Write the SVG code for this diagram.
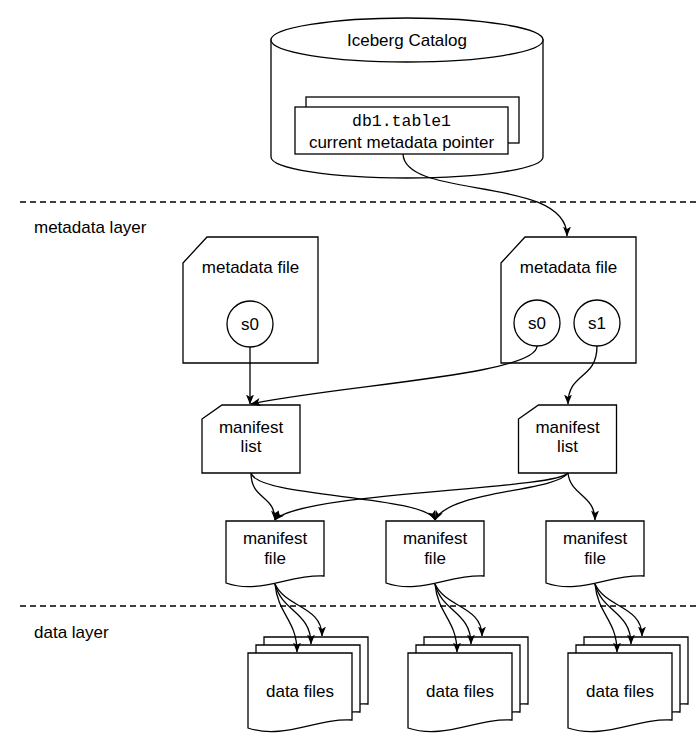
<svg xmlns="http://www.w3.org/2000/svg" width="700" height="742" viewBox="0 0 700 742">
<style>
.s{fill:#fff;stroke:#000;stroke-width:1.3}
.e{fill:none;stroke:#000;stroke-width:1.3;marker-end:url(#ah)}
.d{fill:none;stroke:#000;stroke-width:1.3;stroke-dasharray:6 4}
.t{font-family:"Liberation Sans",Arial,sans-serif;font-size:17px;text-anchor:middle;fill:#000}
.l{font-family:"Liberation Sans",Arial,sans-serif;font-size:17px;fill:#000}
.m{font-family:"Liberation Mono","Courier New",monospace;font-size:16.5px;text-anchor:middle;fill:#000}
</style>
<defs>
<marker id="ah" markerWidth="10" markerHeight="8" refX="9.5" refY="4" orient="auto" markerUnits="userSpaceOnUse">
<path d="M0,0 L10,4 L0,8 L2.5,4 z" fill="#000"/>
</marker>
</defs>
<rect width="700" height="742" fill="#fff"/>
<g id="layers">
<line class="d" x1="20" y1="202" x2="700" y2="202"/>
<line class="d" x1="20" y1="606" x2="700" y2="606"/>
<text class="l" x="34" y="233">metadata layer</text>
<text class="l" x="34" y="638">data layer</text>
</g>
<g id="catalog">
<path class="s" d="M271,40 V157 A136,21 0 0 0 543,157 V40 Z"/>
<ellipse class="s" cx="407" cy="40" rx="136" ry="22"/>
<text class="t" x="407" y="46">Iceberg Catalog</text>
</g>
<g id="pointer">
<rect class="s" x="306" y="97" width="213" height="46"/>
<rect class="s" x="295" y="107" width="213" height="47"/>
<text class="m" x="401.5" y="126">db1.table1</text>
<text class="t" x="401.5" y="147.5">current metadata pointer</text>
</g>
<g id="metadata-file-old">
<path class="s" d="M183,263 L207,237 H318 V363 H183 Z"/>
<text class="t" x="250.5" y="273">metadata file</text>
<circle class="s" cx="250" cy="324" r="23"/>
<text class="t" x="250" y="330">s0</text>
</g>
<g id="metadata-file-new">
<path class="s" d="M501,263 L525,237 H636 V363 H501 Z"/>
<text class="t" x="568.5" y="273">metadata file</text>
<circle class="s" cx="537" cy="323" r="23"/>
<text class="t" x="537" y="329">s0</text>
<circle class="s" cx="597" cy="323" r="23"/>
<text class="t" x="597" y="329">s1</text>
</g>
<g id="manifest-list-1">
<path class="s" d="M202,419 L222,405 H300 V473 H202 Z"/>
<text class="t" x="251" y="433">manifest</text>
<text class="t" x="251" y="452">list</text>
</g>
<g id="manifest-list-2">
<path class="s" d="M518.5,419 L538.5,405 H616.5 V473 H518.5 Z"/>
<text class="t" x="567.5" y="433">manifest</text>
<text class="t" x="567.5" y="452">list</text>
</g>
<g id="manifest-file-1">
<path class="s" d="M226,521 H324 V576 C289.7,574 260.3,595 226,583 Z"/>
<text class="t" x="275" y="544">manifest</text>
<text class="t" x="275" y="564">file</text>
</g>
<g id="manifest-file-2">
<path class="s" d="M386,521 H484 V576 C449.7,574 420.3,595 386,583 Z"/>
<text class="t" x="435" y="544">manifest</text>
<text class="t" x="435" y="564">file</text>
</g>
<g id="manifest-file-3">
<path class="s" d="M546,521 H644 V576 C609.7,574 580.3,595 546,583 Z"/>
<text class="t" x="595" y="544">manifest</text>
<text class="t" x="595" y="564">file</text>
</g>
<g id="data-files-1">
<path class="s" d="M264,637 H368 V704 C332,702 300,724 264,712 Z"/>
<path class="s" d="M256,645 H360 V712 C324,710 292,732 256,720 Z"/>
<path class="s" d="M248,653 H352 V720 C316,718 284,740 248,728 Z"/>
<text class="t" x="300" y="697">data files</text>
</g>
<g id="data-files-2">
<path class="s" d="M424,637 H528 V704 C492,702 460,724 424,712 Z"/>
<path class="s" d="M416,645 H520 V712 C484,710 452,732 416,720 Z"/>
<path class="s" d="M408,653 H512 V720 C476,718 444,740 408,728 Z"/>
<text class="t" x="460" y="697">data files</text>
</g>
<g id="data-files-3">
<path class="s" d="M584,637 H688 V704 C652,702 620,724 584,712 Z"/>
<path class="s" d="M576,645 H680 V712 C644,710 612,732 576,720 Z"/>
<path class="s" d="M568,653 H672 V720 C636,718 604,740 568,728 Z"/>
<text class="t" x="620" y="697">data files</text>
</g>
<g id="connectors">
<path class="e" d="M403,154 C405,200 567,175 567,236"/>
<path class="e" d="M250,347 L250,404"/>
<path class="e" d="M537,346 C537,375 340,385 251,404"/>
<path class="e" d="M597,346 C597,380 568,372 568,404"/>
<path class="e" d="M251,473 C251,500 275,495 275,520"/>
<path class="e" d="M251,473 C258,498 425,495 435,520"/>
<path class="e" d="M568,473 C555,490 300,492 275,520"/>
<path class="e" d="M568,473 C555,492 450,490 435,520"/>
<path class="e" d="M568,473 C570,495 595,495 595,520"/>
<path class="e" d="M275,584 C278,615 297,620 297,652"/>
<path class="e" d="M275,584 C282,612 311,612 311,644"/>
<path class="e" d="M275,584 C286,608 322,606 322,636"/>
<path class="e" d="M435,584 C438,615 457,620 457,652"/>
<path class="e" d="M435,584 C442,612 471,612 471,644"/>
<path class="e" d="M435,584 C446,608 482,606 482,636"/>
<path class="e" d="M595,584 C598,615 617,620 617,652"/>
<path class="e" d="M595,584 C602,612 631,612 631,644"/>
<path class="e" d="M595,584 C606,608 642,606 642,636"/>
</g>
</svg>
